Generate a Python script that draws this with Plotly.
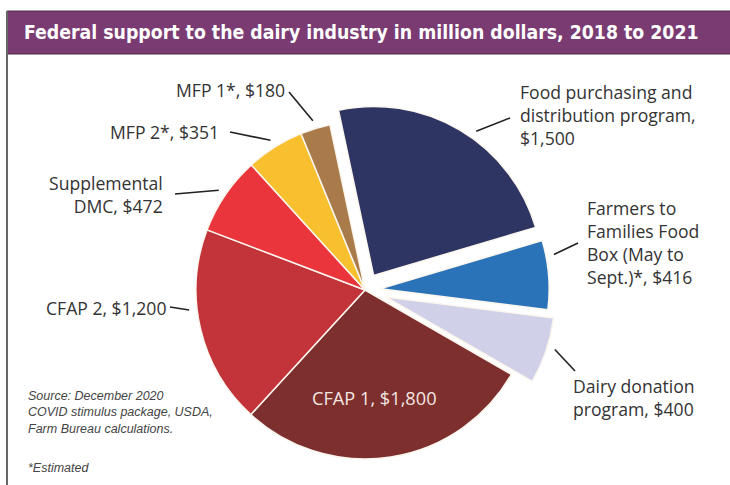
import math
import plotly.graph_objects as go

# ---------------- data ----------------
label_lines = [
    ["Food purchasing and", "distribution program,", "$1,500"],
    ["Farmers to", "Families Food", "Box (May to", "Sept.)*, $416"],
    ["Dairy donation", "program, $400"],
    ["CFAP 1, $1,800"],
    ["CFAP 2, $1,200"],
    ["Supplemental", "DMC, $472"],
    ["MFP 2*, $351"],
    ["MFP 1*, $180"],
]
names = ["Food purchasing and distribution program", "Farmers to Families Food Box",
         "Dairy donation program", "CFAP 1", "CFAP 2", "Supplemental DMC", "MFP 2", "MFP 1"]
values = [1500, 416, 400, 1800, 1200, 472, 351, 180]
pulls = [0.10, 0.09, 0.13, 0, 0, 0, 0, 0]
colors = ["#2e3562", "#2b73b9", "#d0d0e8", "#7d2f2e", "#c2343a", "#e9353b", "#f8bf2f", "#a97b4b"]

title_text = "Federal support to the dairy industry in million dollars, 2018 to 2021"
source_lines = ["Source: December 2020", "COVID stimulus package, USDA,", "Farm Bureau calculations."]
note_text = "*Estimated"

# ---------------- layout geometry (pixels) ----------------
W, H = 730, 485
CX, CY, R = 365, 290, 169
ROT = -12
LABEL_FONT = "Open Sans, Liberation Sans, Arial, sans-serif"
LABEL_SIZE = 17.6
maxpull = max(pulls)
half = R * (1 + maxpull)


def px(x):
    return x / W


def py(y):
    return 1 - y / H


fig = go.Figure()
fig.add_trace(go.Pie(
    labels=names, values=values, sort=False, direction="clockwise", rotation=ROT,
    pull=pulls, textinfo="none", hoverinfo="label+value",
    marker=dict(colors=colors, line=dict(color="#fbf6ee", width=1.5)),
    domain=dict(x=[px(CX - half), px(CX + half)], y=[py(CY + half), py(CY - half)]),
    showlegend=False,
))

# label placement: (text x, text mid y, anchor, leader outer x, y, fraction within slice)
label_pos = [
    (518, 115, "left", 510, 118, 0.55),
    (585, 242.5, "left", 578, 243, 0.25),
    (571, 397.5, "left", 575, 371, 0.45),
    None,
    (168, 308, "right", 170, 307, 0.6),
    (165, 194.5, "right", 175, 194, 0.5),
    (221, 132, "right", 230, 132, 0.5),
    (287, 90, "right", 289, 92, 0.5),
]

total = sum(values)
cum = 0
shapes = []
annotations = []


def add_block(lines, x, ymid, anchor, font):
    annotations.append(dict(text="<br>".join(lines), x=px(x), y=py(ymid),
                            xref="paper", yref="paper", xanchor=anchor, yanchor="middle",
                            align=anchor if anchor != "center" else "center",
                            showarrow=False, font=font))


for i, v in enumerate(values):
    a0 = ROT + 360 * cum / total
    cum += v
    a1 = ROT + 360 * cum / total
    if label_pos[i] is None:
        continue
    tx, ty, anchor, lx, ly, frac = label_pos[i]
    ang = math.radians(a0 + frac * (a1 - a0))
    rr = R * (1 + pulls[i]) + 8
    ix = CX + rr * math.sin(ang)
    iy = CY - rr * math.cos(ang)
    shapes.append(dict(type="line", xref="paper", yref="paper",
                       x0=px(ix), y0=py(iy), x1=px(lx), y1=py(ly),
                       line=dict(color="#222222", width=1.6)))
    add_block(label_lines[i], tx, ty, anchor,
              dict(family=LABEL_FONT, size=LABEL_SIZE, color="#333333"))

# CFAP 1 inside label
add_block(label_lines[3], 374, 398, "center",
          dict(family=LABEL_FONT, size=LABEL_SIZE + 0.6, color="#f4e6e2"))

# title bar
shapes.append(dict(type="rect", xref="paper", yref="paper", x0=px(7), x1=1.01,
                   y0=py(54), y1=py(11), fillcolor="#7a3b72",
                   line=dict(color="#4e2a49", width=1), layer="below"))
shapes.append(dict(type="line", xref="paper", yref="paper", x0=px(7), x1=px(7),
                   y0=py(11), y1=py(490), line=dict(color="#666666", width=2)))
annotations.append(dict(text="<b>" + title_text + "</b>", x=px(22), y=py(33), xref="paper",
                        yref="paper", xanchor="left", yanchor="middle", showarrow=False,
                        font=dict(family="DejaVu Sans Condensed, Liberation Sans Narrow, Arial Narrow, sans-serif",
                                  size=19.3, color="white")))
add_block(["<i>" + s + "</i>" for s in source_lines], 26, 412, "left",
          dict(family="Liberation Sans, Arial, sans-serif", size=12.5, color="#444444"))
add_block(["<i>" + note_text + "</i>"], 26, 468, "left",
          dict(family="Liberation Sans, Arial, sans-serif", size=12.5, color="#444444"))

fig.update_layout(width=W, height=H, margin=dict(l=0, r=0, t=0, b=0),
                  paper_bgcolor="white", plot_bgcolor="white",
                  shapes=shapes, annotations=annotations)
fig.write_html("out.html")
